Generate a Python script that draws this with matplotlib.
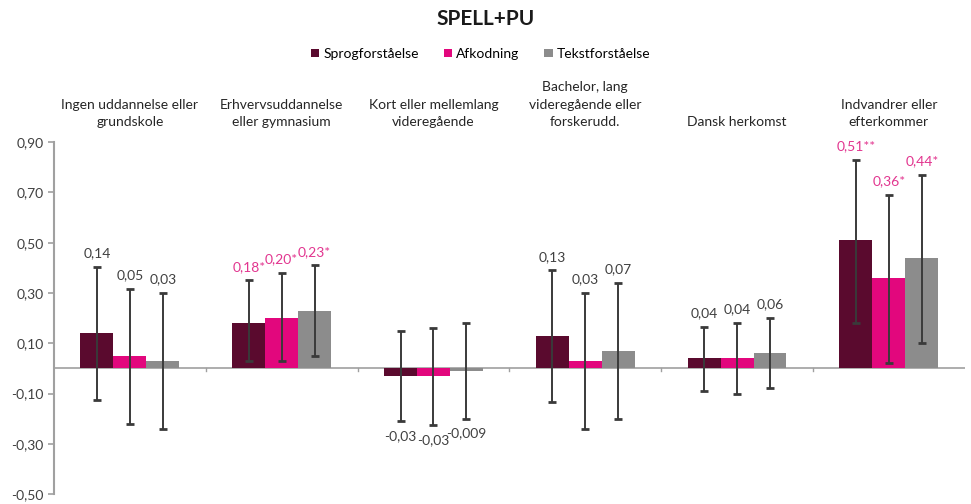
import matplotlib
matplotlib.use("Agg")
import matplotlib.pyplot as plt
import numpy as np

plt.rcParams['font.family'] = ['Lato', 'DejaVu Sans']

categories = ["Ingen uddannelse eller\ngrundskole",
              "Erhvervsuddannelse\neller gymnasium",
              "Kort eller mellemlang\nvideregående",
              "Bachelor, lang\nvideregående eller\nforskerudd.",
              "Dansk herkomst",
              "Indvandrer eller\nefterkommer"]
series = ["Sprogforståelse", "Afkodning", "Tekstforståelse"]
values = {
    "Sprogforståelse": [0.14, 0.18, -0.03, 0.13, 0.04, 0.51],
    "Afkodning":       [0.05, 0.20, -0.03, 0.03, 0.04, 0.36],
    "Tekstforståelse": [0.03, 0.23, -0.009, 0.07, 0.06, 0.44],
}
ci_low = {
    "Sprogforståelse": [-0.125, 0.03, -0.21, -0.135, -0.09, 0.18],
    "Afkodning":       [-0.22, 0.03, -0.225, -0.24, -0.10, 0.02],
    "Tekstforståelse": [-0.24, 0.05, -0.20, -0.20, -0.08, 0.10],
}
ci_high = {
    "Sprogforståelse": [0.405, 0.35, 0.15, 0.39, 0.165, 0.83],
    "Afkodning":       [0.317, 0.38, 0.16, 0.30, 0.18, 0.69],
    "Tekstforståelse": [0.30, 0.41, 0.18, 0.34, 0.20, 0.77],
}
value_labels = {
    "Sprogforståelse": ["0,14", "0,18*", "-0,03", "0,13", "0,04", "0,51**"],
    "Afkodning":       ["0,05", "0,20*", "-0,03", "0,03", "0,04", "0,36*"],
    "Tekstforståelse": ["0,03", "0,23*", "-0,009", "0,07", "0,06", "0,44*"],
}
colors = {"Sprogforståelse": "#5a0a2e", "Afkodning": "#e2077d", "Tekstforståelse": "#8c8c8c"}
yticks = [-0.5, -0.3, -0.1, 0.1, 0.3, 0.5, 0.7, 0.9]

fig = plt.figure(figsize=(9.71, 5.04), dpi=100)
ax = fig.add_axes([0.0556, 0.0198, 0.938, 0.698])

n = len(categories)
x = np.arange(n)
w = 0.217
for i, s in enumerate(series):
    xs = x + (i - 1) * w
    vals = np.array(values[s])
    lo = np.array(ci_low[s]); hi = np.array(ci_high[s])
    ax.bar(xs, vals, width=w, color=colors[s], label=s, zorder=2)
    ax.errorbar(xs, vals, yerr=[vals - lo, hi - vals], fmt='none', ecolor='#3a3a3a',
                elinewidth=1.4, capsize=3, capthick=2, zorder=3)
    for j in range(n):
        lab = value_labels[s][j]
        col = '#e2358f' if '*' in lab else '#404040'
        if vals[j] >= 0:
            ax.text(xs[j], hi[j] + 0.03, lab, ha='center', va='bottom', fontsize=10, color=col)
        else:
            ax.text(xs[j], lo[j] - 0.035, lab, ha='center', va='top', fontsize=10, color=col)

ax.set_xlim(-0.5, n - 0.5)
ax.set_ylim(-0.5, 0.9)
ax.set_yticks(yticks)
ax.set_yticklabels([f"{t:.2f}".replace('.', ',') for t in yticks], fontsize=10, color='#404040')
ax.set_xticks([])
for sp in ['top', 'right', 'bottom']:
    ax.spines[sp].set_visible(False)
ax.spines['left'].set_color('#a0a0a0')
ax.spines['left'].set_linewidth(1.5)
ax.tick_params(axis='y', length=4, color='#a0a0a0', width=1.2)
ax.axhline(0, color='#a0a0a0', lw=1.2, zorder=1)
for b in np.arange(0.5, n - 0.5, 1.0):
    ax.plot([b, b], [0, -0.012], color='#a0a0a0', lw=1, zorder=1)

for j, c in enumerate(categories):
    ax.text(x[j], 0.955, c, ha='center', va='bottom', fontsize=10, color='#262626',
            clip_on=False, linespacing=1.55)

fig.text(0.5, 0.963, "SPELL+PU", ha='center', va='center', fontsize=15, fontweight='bold', color='#1a1a1a')
leg = fig.legend(loc='center', bbox_to_anchor=(0.495, 0.893), ncol=3, frameon=False,
                 fontsize=10, handlelength=0.6, handleheight=0.6, handletextpad=0.3, columnspacing=1.8)

fig.savefig("out.png", dpi=100)
